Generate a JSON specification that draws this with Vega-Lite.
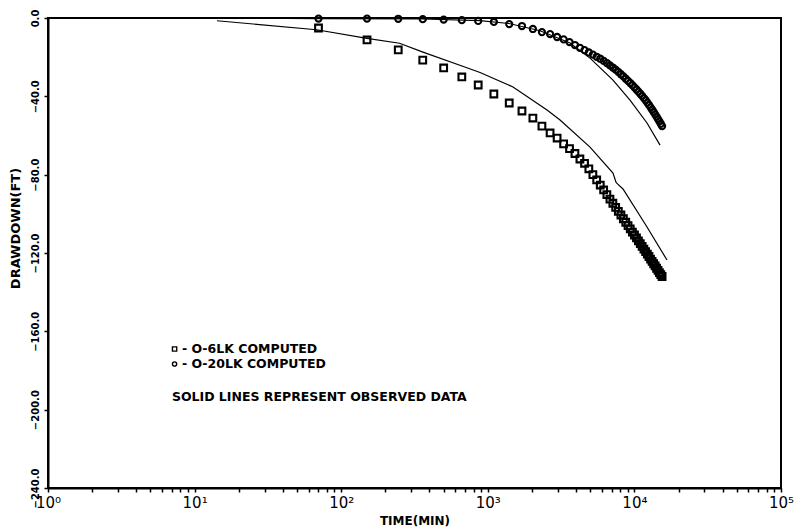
{
  "$schema": "https://vega.github.io/schema/vega-lite/v6.json",
  "width": 733,
  "height": 470,
  "autosize": {"type": "none"},
  "padding": {"left": 48, "top": 18, "right": 13, "bottom": 44},
  "background": "white",
  "config": {
    "view": {"stroke": "black", "strokeWidth": 2},
    "axis": {"domainColor": "black", "domainWidth": 2, "tickColor": "black", "tickWidth": 1.5, "grid": false, "labelColor": "black", "titleColor": "black", "labelFont": "DejaVu Sans", "titleFont": "DejaVu Sans"}
  },
  "datasets": {
    "computed": [
      {"t": 70, "d": -0.3, "series": "O-20LK"},
      {"t": 150, "d": -0.3, "series": "O-20LK"},
      {"t": 245, "d": -0.4, "series": "O-20LK"},
      {"t": 360, "d": -0.6, "series": "O-20LK"},
      {"t": 500, "d": -0.8, "series": "O-20LK"},
      {"t": 665, "d": -1.1, "series": "O-20LK"},
      {"t": 860, "d": -1.5, "series": "O-20LK"},
      {"t": 1100, "d": -2.0, "series": "O-20LK"},
      {"t": 1400, "d": -3.1, "series": "O-20LK"},
      {"t": 1710, "d": -4.1, "series": "O-20LK"},
      {"t": 2030, "d": -5.6, "series": "O-20LK"},
      {"t": 2340, "d": -7.2, "series": "O-20LK"},
      {"t": 2660, "d": -8.2, "series": "O-20LK"},
      {"t": 2970, "d": -9.7, "series": "O-20LK"},
      {"t": 3290, "d": -10.9, "series": "O-20LK"},
      {"t": 3610, "d": -12.3, "series": "O-20LK"},
      {"t": 3930, "d": -13.8, "series": "O-20LK"},
      {"t": 4250, "d": -15.2, "series": "O-20LK"},
      {"t": 4570, "d": -16.4, "series": "O-20LK"},
      {"t": 4890, "d": -17.6, "series": "O-20LK"},
      {"t": 5210, "d": -18.7, "series": "O-20LK"},
      {"t": 5530, "d": -19.8, "series": "O-20LK"},
      {"t": 5850, "d": -20.8, "series": "O-20LK"},
      {"t": 6170, "d": -21.9, "series": "O-20LK"},
      {"t": 6490, "d": -23.0, "series": "O-20LK"},
      {"t": 6810, "d": -24.2, "series": "O-20LK"},
      {"t": 7130, "d": -25.3, "series": "O-20LK"},
      {"t": 7450, "d": -26.4, "series": "O-20LK"},
      {"t": 7770, "d": -27.5, "series": "O-20LK"},
      {"t": 8090, "d": -28.7, "series": "O-20LK"},
      {"t": 8410, "d": -29.8, "series": "O-20LK"},
      {"t": 8730, "d": -31.0, "series": "O-20LK"},
      {"t": 9050, "d": -32.1, "series": "O-20LK"},
      {"t": 9370, "d": -33.2, "series": "O-20LK"},
      {"t": 9690, "d": -34.3, "series": "O-20LK"},
      {"t": 10010, "d": -35.4, "series": "O-20LK"},
      {"t": 10330, "d": -36.5, "series": "O-20LK"},
      {"t": 10650, "d": -37.6, "series": "O-20LK"},
      {"t": 10970, "d": -38.7, "series": "O-20LK"},
      {"t": 11290, "d": -39.8, "series": "O-20LK"},
      {"t": 11610, "d": -40.9, "series": "O-20LK"},
      {"t": 11930, "d": -42.0, "series": "O-20LK"},
      {"t": 12250, "d": -43.2, "series": "O-20LK"},
      {"t": 12570, "d": -44.4, "series": "O-20LK"},
      {"t": 12890, "d": -45.6, "series": "O-20LK"},
      {"t": 13210, "d": -46.8, "series": "O-20LK"},
      {"t": 13530, "d": -48.0, "series": "O-20LK"},
      {"t": 13850, "d": -49.2, "series": "O-20LK"},
      {"t": 14170, "d": -50.4, "series": "O-20LK"},
      {"t": 14490, "d": -51.6, "series": "O-20LK"},
      {"t": 14810, "d": -52.8, "series": "O-20LK"},
      {"t": 15130, "d": -54.0, "series": "O-20LK"},
      {"t": 15450, "d": -55.2, "series": "O-20LK"},
      {"t": 70, "d": -5.1, "series": "O-6LK"},
      {"t": 150, "d": -11.2, "series": "O-6LK"},
      {"t": 245, "d": -16.3, "series": "O-6LK"},
      {"t": 360, "d": -21.5, "series": "O-6LK"},
      {"t": 500, "d": -25.5, "series": "O-6LK"},
      {"t": 665, "d": -30.1, "series": "O-6LK"},
      {"t": 860, "d": -34.2, "series": "O-6LK"},
      {"t": 1100, "d": -38.8, "series": "O-6LK"},
      {"t": 1400, "d": -43.4, "series": "O-6LK"},
      {"t": 1710, "d": -47.5, "series": "O-6LK"},
      {"t": 2030, "d": -51.1, "series": "O-6LK"},
      {"t": 2340, "d": -55.2, "series": "O-6LK"},
      {"t": 2660, "d": -58.7, "series": "O-6LK"},
      {"t": 2970, "d": -61.3, "series": "O-6LK"},
      {"t": 3290, "d": -64.3, "series": "O-6LK"},
      {"t": 3610, "d": -66.7, "series": "O-6LK"},
      {"t": 3930, "d": -69.2, "series": "O-6LK"},
      {"t": 4250, "d": -72.0, "series": "O-6LK"},
      {"t": 4570, "d": -74.2, "series": "O-6LK"},
      {"t": 4890, "d": -77.0, "series": "O-6LK"},
      {"t": 5210, "d": -80.0, "series": "O-6LK"},
      {"t": 5530, "d": -82.7, "series": "O-6LK"},
      {"t": 5850, "d": -85.3, "series": "O-6LK"},
      {"t": 6170, "d": -87.8, "series": "O-6LK"},
      {"t": 6490, "d": -90.2, "series": "O-6LK"},
      {"t": 6810, "d": -92.5, "series": "O-6LK"},
      {"t": 7130, "d": -94.6, "series": "O-6LK"},
      {"t": 7450, "d": -96.7, "series": "O-6LK"},
      {"t": 7770, "d": -98.7, "series": "O-6LK"},
      {"t": 8090, "d": -100.6, "series": "O-6LK"},
      {"t": 8410, "d": -102.5, "series": "O-6LK"},
      {"t": 8730, "d": -104.3, "series": "O-6LK"},
      {"t": 9050, "d": -106.0, "series": "O-6LK"},
      {"t": 9370, "d": -107.7, "series": "O-6LK"},
      {"t": 9690, "d": -109.3, "series": "O-6LK"},
      {"t": 10010, "d": -110.8, "series": "O-6LK"},
      {"t": 10330, "d": -112.3, "series": "O-6LK"},
      {"t": 10650, "d": -113.8, "series": "O-6LK"},
      {"t": 10970, "d": -115.2, "series": "O-6LK"},
      {"t": 11290, "d": -116.6, "series": "O-6LK"},
      {"t": 11610, "d": -118.0, "series": "O-6LK"},
      {"t": 11930, "d": -119.3, "series": "O-6LK"},
      {"t": 12250, "d": -120.6, "series": "O-6LK"},
      {"t": 12570, "d": -121.8, "series": "O-6LK"},
      {"t": 12890, "d": -123.1, "series": "O-6LK"},
      {"t": 13210, "d": -124.3, "series": "O-6LK"},
      {"t": 13530, "d": -125.5, "series": "O-6LK"},
      {"t": 13850, "d": -126.6, "series": "O-6LK"},
      {"t": 14170, "d": -127.8, "series": "O-6LK"},
      {"t": 14490, "d": -128.9, "series": "O-6LK"},
      {"t": 14810, "d": -130.0, "series": "O-6LK"},
      {"t": 15130, "d": -131.0, "series": "O-6LK"},
      {"t": 15450, "d": -132.0, "series": "O-6LK"}
    ],
    "observed": [
      {"t": 14, "d": 0.0, "series": "O-20LK"},
      {"t": 70, "d": -0.3, "series": "O-20LK"},
      {"t": 360, "d": -0.5, "series": "O-20LK"},
      {"t": 885, "d": -1.3, "series": "O-20LK"},
      {"t": 1395, "d": -2.8, "series": "O-20LK"},
      {"t": 2270, "d": -6.5, "series": "O-20LK"},
      {"t": 3640, "d": -12.8, "series": "O-20LK"},
      {"t": 4980, "d": -20.5, "series": "O-20LK"},
      {"t": 7145, "d": -31.7, "series": "O-20LK"},
      {"t": 9333, "d": -41.9, "series": "O-20LK"},
      {"t": 12190, "d": -53.6, "series": "O-20LK"},
      {"t": 14960, "d": -64.9, "series": "O-20LK"},
      {"t": 14.2, "d": -1.4, "series": "O-6LK"},
      {"t": 68, "d": -6.0, "series": "O-6LK"},
      {"t": 150, "d": -10.4, "series": "O-6LK"},
      {"t": 250, "d": -12.9, "series": "O-6LK"},
      {"t": 361, "d": -17.4, "series": "O-6LK"},
      {"t": 720, "d": -25.4, "series": "O-6LK"},
      {"t": 885, "d": -27.8, "series": "O-6LK"},
      {"t": 1486, "d": -35.2, "series": "O-6LK"},
      {"t": 2535, "d": -47.0, "series": "O-6LK"},
      {"t": 3110, "d": -52.1, "series": "O-6LK"},
      {"t": 4980, "d": -65.9, "series": "O-6LK"},
      {"t": 7145, "d": -79.2, "series": "O-6LK"},
      {"t": 7500, "d": -84.0, "series": "O-6LK"},
      {"t": 7700, "d": -84.8, "series": "O-6LK"},
      {"t": 8360, "d": -87.3, "series": "O-6LK"},
      {"t": 12190, "d": -106.7, "series": "O-6LK"},
      {"t": 16690, "d": -123.6, "series": "O-6LK"}
    ],
    "symbols": [
      {"t": 7.3, "d": -169.0, "series": "O-6LK"},
      {"t": 7.3, "d": -176.7, "series": "O-20LK"}
    ],
    "notes": [
      {"t": 8.2, "d": -169.0, "label": "- O-6LK COMPUTED"},
      {"t": 8.2, "d": -176.7, "label": "- O-20LK COMPUTED"},
      {"t": 7.0, "d": -193.6, "label": "SOLID LINES REPRESENT OBSERVED DATA"}
    ]
  },
  "encoding": {
    "x": {
      "field": "t",
      "type": "quantitative",
      "scale": {"type": "log", "domain": [1, 100000], "nice": false},
      "axis": {
        "title": "TIME(MIN)",
        "values": [1, 2, 3, 4, 5, 6, 7, 8, 9, 10, 20, 30, 40, 50, 60, 70, 80, 90, 100, 200, 300, 400, 500, 600, 700, 800, 900, 1000, 2000, 3000, 4000, 5000, 6000, 7000, 8000, 9000, 10000, 20000, 30000, 40000, 50000, 60000, 70000, 80000, 90000, 100000],
        "labelExpr": "datum.value == 1 ? '10⁰' : datum.value == 10 ? '10¹' : datum.value == 100 ? '10²' : datum.value == 1000 ? '10³' : datum.value == 10000 ? '10⁴' : datum.value == 100000 ? '10⁵' : ''",
        "labelOverlap": false,
        "labelFlush": false,
        "tickSize": 4,
        "labelPadding": 3,
        "labelFontSize": 15,
        "titleFontSize": 12,
        "titleFontWeight": "bold",
        "titlePadding": 5
      }
    },
    "y": {
      "field": "d",
      "type": "quantitative",
      "scale": {"domain": [-240, 0], "nice": false},
      "axis": {
        "title": "DRAWDOWN(FT)",
        "values": [-240, -200, -160, -120, -80, -40, 0],
        "format": ".1f",
        "labelAngle": 270,
        "labelAlign": "center",
        "labelBaseline": "bottom",
        "labelFontSize": 10,
        "labelFontWeight": "bold",
        "tickSize": 4,
        "labelPadding": 4,
        "titleFontSize": 13,
        "titleFontWeight": "bold",
        "titleX": -33,
        "titleY": 210,
        "titleAlign": "center",
        "titleBaseline": "middle"
      }
    }
  },
  "layer": [
    {
      "data": {"name": "observed"},
      "mark": {"type": "line", "color": "black", "strokeWidth": 1.2},
      "encoding": {"detail": {"field": "series"}}
    },
    {
      "data": {"name": "computed"},
      "mark": {"type": "point", "filled": false, "stroke": "black", "strokeWidth": 2.1, "opacity": 1},
      "encoding": {
        "shape": {"field": "series", "scale": {"domain": ["O-6LK", "O-20LK"], "range": ["square", "circle"]}, "legend": null},
        "size": {"field": "series", "scale": {"domain": ["O-6LK", "O-20LK"], "range": [45, 38]}, "legend": null}
      }
    },
    {
      "data": {"name": "symbols"},
      "mark": {"type": "point", "filled": false, "stroke": "black", "strokeWidth": 1.4, "size": 18, "opacity": 1},
      "encoding": {
        "shape": {"field": "series", "scale": {"domain": ["O-6LK", "O-20LK"], "range": ["square", "circle"]}, "legend": null}
      }
    },
    {
      "data": {"name": "notes"},
      "mark": {"type": "text", "align": "left", "baseline": "middle", "font": "DejaVu Sans", "fontSize": 12.5, "fontWeight": "bold", "color": "black"},
      "encoding": {"text": {"field": "label"}}
    }
  ]
}
